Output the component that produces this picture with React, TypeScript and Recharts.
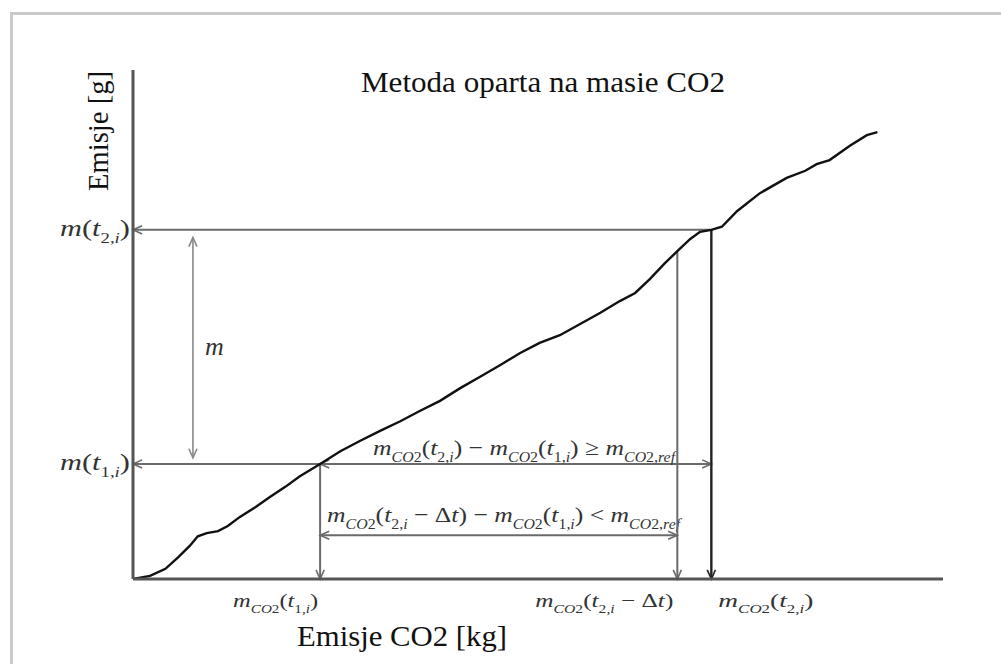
import React from "react";
import { LineChart, Line, XAxis, YAxis, ReferenceLine, Customized } from "recharts";

// cumulative CO2 emission [kg] vs cumulative emission [g] (schematic)
const co2Kg = [
  0, 2.1, 4.0, 5.6, 7.0, 8.0, 9.1, 10.5, 11.7, 13.2, 15.1, 16.9, 18.8, 20.6, 23.1, 25.6,
  28.0, 30.5, 33.0, 35.4, 37.9, 40.4, 42.8, 45.3, 47.8, 50.2, 52.7, 55.2, 57.7, 60.1, 62.0,
  63.8, 65.7, 67.2, 68.8, 70.0, 71.4, 72.7, 74.6, 77.4, 80.7, 83.0, 84.4, 86.0, 88.5, 90.6, 91.9,
];
const emisjeG = [
  0, 0.6, 2.0, 4.3, 6.5, 8.4, 9.0, 9.4, 10.4, 12.2, 14.1, 16.1, 18.1, 20.2, 22.6, 25.1,
  27.1, 29.1, 31.0, 33.0, 35.0, 37.5, 39.7, 42.0, 44.4, 46.4, 47.9, 50.1, 52.3, 54.6, 56.2,
  58.9, 62.1, 64.4, 66.8, 68.2, 68.6, 69.2, 72.3, 75.8, 78.8, 80.2, 81.5, 82.3, 85.1, 87.2, 87.8,
];

// key points of the window
const t1Co2 = 23.1;
const t2dCo2 = 67.2;
const t2Co2 = 71.4;
const mT1 = 22.6;
const mT2 = 68.6;
const mT2d = 64.4;
const mArrowX = 7.4;
const lowerArrowY = 8.6;

const xTicks = [t1Co2, t2dCo2, t2Co2];
const yTicks = [mT1, mT2];

const data = co2Kg.map((x, i) => ({ x, y: emisjeG[i] }));

const SERIF = "Liberation Serif, Times New Roman, serif";
const GUIDE = "#6a6a6a";

type Part = { t: string; i?: boolean; s?: boolean };

const MathText = ({
  x,
  y,
  parts,
  size,
  len,
}: {
  x: number;
  y: number;
  parts: Part[];
  size: number;
  len?: number;
}) => {
  let inSub = false;
  const shift = size * 0.3;
  return (
    <text
      x={x}
      y={y}
      style={{ fontFamily: SERIF }}
      fill="#333"
      textLength={len}
      lengthAdjust={len ? "spacingAndGlyphs" : undefined}
    >
      {parts.map((p, k) => {
        let dy = 0;
        if (p.s && !inSub) {
          dy = shift;
          inSub = true;
        } else if (!p.s && inSub) {
          dy = -shift;
          inSub = false;
        }
        return (
          <tspan
            key={k}
            dy={dy}
            fontStyle={p.i ? "italic" : "normal"}
            fontSize={p.s ? size * 0.62 : size}
          >
            {p.t}
          </tspan>
        );
      })}
    </text>
  );
};

const mco2: Part[] = [{ t: "m", i: true }, { t: "CO", i: true, s: true }, { t: "2", s: true }];
const sub = (n: string): Part[] => [{ t: n + ",", s: true }, { t: "i", i: true, s: true }];
const mRef: Part[] = [
  { t: "m", i: true },
  { t: "CO", i: true, s: true },
  { t: "2,", s: true },
  { t: "ref", i: true, s: true },
];

const yTickParts: Part[][] = [
  [{ t: "m", i: true }, { t: "(" }, { t: "t", i: true }, ...sub("1"), { t: ")" }],
  [{ t: "m", i: true }, { t: "(" }, { t: "t", i: true }, ...sub("2"), { t: ")" }],
];
const xTickParts: Part[][] = [
  [...mco2, { t: "(" }, { t: "t", i: true }, ...sub("1"), { t: ")" }],
  [...mco2, { t: "(" }, { t: "t", i: true }, ...sub("2"), { t: " − Δ" }, { t: "t", i: true }, { t: ")" }],
  [...mco2, { t: "(" }, { t: "t", i: true }, ...sub("2"), { t: ")" }],
];
// [offset from tick, width]
const xTickPlace = [
  [-87, 85],
  [-142, 138],
  [7, 95],
];

const upperParts: Part[] = [
  ...mco2, { t: "(" }, { t: "t", i: true }, ...sub("2"), { t: ") − " },
  ...mco2, { t: "(" }, { t: "t", i: true }, ...sub("1"), { t: ") ≥ " },
  ...mRef,
];
const lowerParts: Part[] = [
  ...mco2, { t: "(" }, { t: "t", i: true }, ...sub("2"), { t: " − Δ" }, { t: "t", i: true }, { t: ") − " },
  ...mco2, { t: "(" }, { t: "t", i: true }, ...sub("1"), { t: ") < " },
  ...mRef,
];

const XTick = (props: any) => {
  const { x, index } = props;
  const [off, len] = xTickPlace[index] || [0, 80];
  return <MathText x={x + off} y={607} parts={xTickParts[index] || []} size={19} len={len} />;
};

const YTick = (props: any) => {
  const { y, index } = props;
  return <MathText x={60} y={y + 6} parts={yTickParts[index] || []} size={24} len={70} />;
};

const head = (tx: number, ty: number, fx: number, fy: number) => {
  const a = Math.atan2(ty - fy, tx - fx);
  const L = 10;
  const sp = 0.42;
  return (
    `M${tx - L * Math.cos(a - sp)},${ty - L * Math.sin(a - sp)}` +
    `L${tx},${ty}` +
    `L${tx - L * Math.cos(a + sp)},${ty - L * Math.sin(a + sp)}`
  );
};

const arrow =
  (opts: { start?: boolean; end?: boolean; color?: string; width?: number }) =>
  (p: any) => {
    const { x1, y1, x2, y2 } = p;
    const color = opts.color || GUIDE;
    const w = opts.width || 2;
    let d = "";
    if (opts.end) d += head(x2, y2, x1, y1);
    if (opts.start) d += head(x1, y1, x2, y2);
    return (
      <g>
        <line x1={x1} y1={y1} x2={x2} y2={y2} stroke={color} strokeWidth={w} />
        {d && <path d={d} fill="none" stroke={color} strokeWidth={1.6} />}
      </g>
    );
  };

const Texts = () => (
  <g style={{ fontFamily: SERIF }} fill="#111">
    <text x={361} y={92} fontSize={30} textLength={364} lengthAdjust="spacingAndGlyphs">
      Metoda oparta na masie CO2
    </text>
    <text x={297} y={646} fontSize={30} textLength={210} lengthAdjust="spacingAndGlyphs">
      Emisje CO2 [kg]
    </text>
    <text
      x={108}
      y={131}
      fontSize={29}
      textAnchor="middle"
      transform="rotate(-90, 108, 131)"
      textLength={120}
      lengthAdjust="spacingAndGlyphs"
    >
      Emisje [g]
    </text>
  </g>
);

export default function App() {
  return (
    <div style={{ position: "absolute", left: 0, top: 0, width: 1001, height: 664, background: "#fff" }}>
      <div
        style={{
          position: "absolute",
          left: 10,
          top: 12,
          width: 1001,
          height: 700,
          borderTop: "3px solid #cacaca",
          borderLeft: "3px solid #cacaca",
        }}
      />
      <div style={{ position: "absolute", left: 0, top: 0 }}>
        <LineChart width={1001} height={664} data={data} margin={{ top: 70, right: 58, bottom: 84, left: 132 }}>
          <XAxis
            type="number"
            dataKey="x"
            domain={[0, 100]}
            ticks={xTicks}
            interval={0}
            height={1}
            tickLine={false}
            tick={XTick}
            axisLine={{ stroke: "#555", strokeWidth: 3 }}
            allowDataOverflow
          />
          <YAxis
            type="number"
            dataKey="y"
            domain={[0, 100]}
            ticks={yTicks}
            interval={0}
            width={1}
            tickLine={false}
            tick={YTick}
            axisLine={{ stroke: "#555", strokeWidth: 3 }}
            allowDataOverflow
          />
          <ReferenceLine
            segment={[{ x: t2Co2, y: mT2 }, { x: 0, y: mT2 }]}
            shape={arrow({ end: true })}
            ifOverflow="visible"
          />
          <ReferenceLine
            segment={[{ x: t1Co2, y: mT1 }, { x: 0, y: mT1 }]}
            shape={arrow({ end: true })}
            ifOverflow="visible"
          />
          <ReferenceLine
            segment={[{ x: t1Co2, y: mT1 }, { x: t2Co2, y: mT1 }]}
            shape={arrow({ start: true, end: true })}
            ifOverflow="visible"
            label={{
              content: (p: any) => (
                <MathText x={p.viewBox.x + 53} y={p.viewBox.y - 9} parts={upperParts} size={22} len={302} />
              ),
            }}
          />
          <ReferenceLine
            segment={[{ x: t1Co2, y: lowerArrowY }, { x: t2dCo2, y: lowerArrowY }]}
            shape={arrow({ start: true, end: true })}
            ifOverflow="visible"
            label={{
              content: (p: any) => (
                <MathText x={p.viewBox.x + 7} y={p.viewBox.y - 13} parts={lowerParts} size={22} len={353} />
              ),
            }}
          />
          <ReferenceLine
            segment={[{ x: t1Co2, y: mT1 }, { x: t1Co2, y: 0 }]}
            shape={arrow({ end: true })}
            ifOverflow="visible"
          />
          <ReferenceLine
            segment={[{ x: t2dCo2, y: mT2d }, { x: t2dCo2, y: 0 }]}
            shape={arrow({ end: true })}
            ifOverflow="visible"
          />
          <ReferenceLine
            segment={[{ x: t2Co2, y: mT2 }, { x: t2Co2, y: 0 }]}
            shape={arrow({ end: true, color: "#222", width: 2.4 })}
            ifOverflow="visible"
          />
          <ReferenceLine
            segment={[{ x: mArrowX, y: mT2 - 1.5 }, { x: mArrowX, y: mT1 + 1.2 }]}
            shape={arrow({ start: true, end: true, color: "#888", width: 1.6 })}
            ifOverflow="visible"
            label={{
              content: (p: any) => (
                <MathText
                  x={p.viewBox.x + 12}
                  y={p.viewBox.y + p.viewBox.height / 2 + 7}
                  parts={[{ t: "m", i: true }]}
                  size={26}
                />
              ),
            }}
          />
          <Line
            type="linear"
            dataKey="y"
            stroke="#111"
            strokeWidth={2.4}
            dot={false}
            isAnimationActive={false}
          />
          <Customized component={Texts} />
        </LineChart>
      </div>
    </div>
  );
}
